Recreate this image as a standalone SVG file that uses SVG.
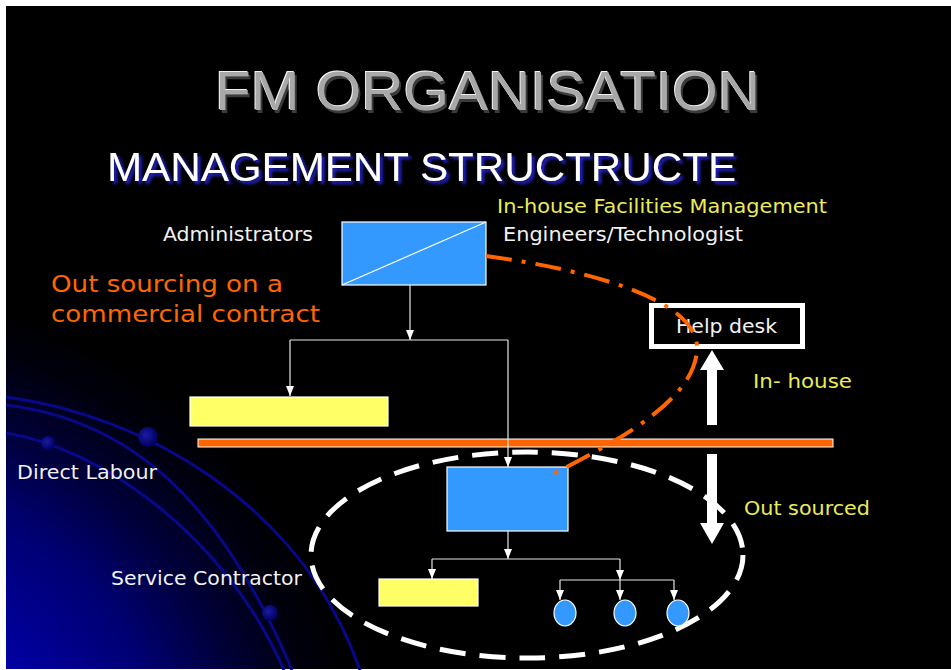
<svg xmlns="http://www.w3.org/2000/svg" width="951" height="670" viewBox="0 0 951 670">
<defs>
<radialGradient id="planet" gradientUnits="userSpaceOnUse" cx="-150" cy="800" r="520">
<stop offset="0" stop-color="#0000c8"/>
<stop offset="0.42" stop-color="#00009e"/>
<stop offset="0.62" stop-color="#000072"/>
<stop offset="0.78" stop-color="#000036"/>
<stop offset="0.9" stop-color="#00000e"/>
<stop offset="1" stop-color="#000000"/>
</radialGradient>
<radialGradient id="dot" cx="0.4" cy="0.4" r="0.6">
<stop offset="0" stop-color="#1a1aa0"/>
<stop offset="1" stop-color="#000060"/>
</radialGradient>
<filter id="bevel" x="-5%" y="-20%" width="110%" height="150%">
<feFlood flood-color="#3a3a3a" result="dk"/>
<feComposite in="dk" in2="SourceAlpha" operator="in" result="dk2"/>
<feOffset in="dk2" dx="2" dy="3" result="shadow"/>
<feFlood flood-color="#f2f2f2" result="lt"/>
<feComposite in="lt" in2="SourceAlpha" operator="in" result="lt2"/>
<feOffset in="lt2" dx="-1" dy="-1" result="hi"/>
<feMerge>
<feMergeNode in="shadow"/>
<feMergeNode in="hi"/>
<feMergeNode in="SourceGraphic"/>
</feMerge>
</filter>
<filter id="glow" x="-5%" y="-30%" width="110%" height="170%">
<feFlood flood-color="#2222cc" result="bl"/>
<feComposite in="bl" in2="SourceAlpha" operator="in" result="bl2"/>
<feOffset in="bl2" dx="3" dy="3" result="off"/>
<feGaussianBlur in="off" stdDeviation="1.5" result="sh"/>
<feMerge>
<feMergeNode in="sh"/>
<feMergeNode in="SourceGraphic"/>
</feMerge>
</filter>
<marker id="arr" markerUnits="userSpaceOnUse" markerWidth="10" markerHeight="10" viewBox="0 0 10 10" refX="10" refY="5" orient="auto">
<path d="M0,1 L10,5 L0,9 Z" fill="#ffffff"/>
</marker>
</defs>
<style>
.lbl{font-family:"DejaVu Sans","Liberation Sans",sans-serif;font-size:20px;fill:#f2f2f2}
.yel{fill:#ebeb5c}
.org{fill:#ff6600;font-size:23px}
.conn{stroke:#e6e6e6;stroke-width:1.2;fill:none}
.box{fill:#3399ff;stroke:#ffffff;stroke-width:1.2}
.ybox{fill:#ffff66;stroke:#ffffff;stroke-width:1.2}
.orbit{fill:none;stroke:#08088a;stroke-width:3}
</style>
<rect x="0" y="0" width="951" height="670" fill="#ffffff"/>
<rect x="6" y="6" width="945" height="663" fill="#000000"/>
<rect x="6" y="6" width="945" height="663" fill="url(#planet)"/>
<g id="orbits">
<path class="orbit" d="M6,397 C140,415 300,500 360,670"/>
<path class="orbit" d="M6,405 C130,420 220,500 292,670"/>
<path class="orbit" d="M6,433 C100,448 225,535 284,670"/>
<circle cx="148" cy="437" r="10" fill="url(#dot)"/>
<circle cx="48" cy="443" r="7" fill="url(#dot)"/>
<circle cx="270" cy="613" r="8" fill="url(#dot)"/>
</g>
<g id="title">
<text x="215" y="110" font-family="Liberation Sans, Arial, sans-serif" font-size="56" textLength="545" lengthAdjust="spacingAndGlyphs" fill="#a8a8a8" filter="url(#bevel)">FM ORGANISATION</text>
</g>
<g id="subtitle">
<text x="107" y="181" font-family="Liberation Sans, Arial, sans-serif" font-size="40" textLength="629" lengthAdjust="spacingAndGlyphs" fill="#ffffff" filter="url(#glow)">MANAGEMENT STRUCTRUCTE</text>
</g>
<g id="separator">
<rect x="198" y="439" width="635" height="8" fill="#ff6600" stroke="#ffffff" stroke-width="1"/>
</g>
<g id="outsourced-boundary">
<ellipse cx="527" cy="555" rx="216" ry="103" fill="none" stroke="#ffffff" stroke-width="5" stroke-dasharray="26 14"/>
</g>
<g id="connectors">
<path class="conn" d="M410,285 V340" marker-end="url(#arr)"/>
<path class="conn" d="M290,340 H508"/>
<path class="conn" d="M290,340 V396" marker-end="url(#arr)"/>
<path class="conn" d="M508,340 V467" marker-end="url(#arr)"/>
<path class="conn" d="M508,531 V559" marker-end="url(#arr)"/>
<path class="conn" d="M432,559 H620"/>
<path class="conn" d="M432,559 V579" marker-end="url(#arr)"/>
<path class="conn" d="M620,559 V580" marker-end="url(#arr)"/>
<path class="conn" d="M560,580 H674"/>
<path class="conn" d="M560,580 V600" marker-end="url(#arr)"/>
<path class="conn" d="M620,580 V600" marker-end="url(#arr)"/>
<path class="conn" d="M674,580 V600" marker-end="url(#arr)"/>
<polygon points="707,425 717,425 717,370 724,370 712,350 700,370 707,370" fill="#ffffff"/>
<polygon points="707,454 717,454 717,523 724,523 712,544 700,523 707,523" fill="#ffffff"/>
</g>
<g id="administrators">
<rect class="box" x="342" y="222" width="144" height="63"/>
<line x1="342" y1="285" x2="486" y2="222" stroke="#ffffff" stroke-width="1.2"/>
<text class="lbl" x="163" y="241" textLength="150" lengthAdjust="spacingAndGlyphs">Administrators</text>
<text class="lbl" x="503" y="241" textLength="240" lengthAdjust="spacingAndGlyphs">Engineers/Technologist</text>
<text class="lbl yel" x="497" y="213" textLength="330" lengthAdjust="spacingAndGlyphs">In-house Facilities Management</text>
</g>
<g id="outsourcing-label">
<text class="lbl org" x="51" y="292" textLength="232" lengthAdjust="spacingAndGlyphs">Out sourcing on a</text>
<text class="lbl org" x="51" y="322" textLength="269" lengthAdjust="spacingAndGlyphs">commercial contract</text>
</g>
<g id="help-desk">
<rect x="651.5" y="305.5" width="151" height="41" fill="#000000" stroke="#ffffff" stroke-width="5"/>
<text class="lbl" x="676" y="333" textLength="101" lengthAdjust="spacingAndGlyphs">Help desk</text>
</g>
<g id="direct-labour">
<rect class="ybox" x="190" y="397" width="198" height="29"/>
<text class="lbl" x="17" y="479" textLength="140" lengthAdjust="spacingAndGlyphs">Direct Labour</text>
</g>
<g id="service-contractor">
<rect class="box" x="447" y="467" width="121" height="64"/>
<text class="lbl" x="111" y="585" textLength="191" lengthAdjust="spacingAndGlyphs">Service Contractor</text>
</g>
<g id="sub-unit">
<rect class="ybox" x="379" y="579" width="99" height="27"/>
</g>
<g id="staff">
<ellipse class="box" cx="565" cy="613" rx="11" ry="13"/>
<ellipse class="box" cx="625" cy="613" rx="11" ry="13"/>
<ellipse class="box" cx="678" cy="613" rx="11" ry="13"/>
</g>
<g id="flow-labels">
<text class="lbl yel" x="753" y="388" textLength="99" lengthAdjust="spacingAndGlyphs">In- house</text>
<text class="lbl yel" x="744" y="515" textLength="126" lengthAdjust="spacingAndGlyphs">Out sourced</text>
</g>
<g id="outsourcing-link">
<path d="M486,256 C590,270 700,300 697,350 C694,400 620,440 553,474" fill="none" stroke="#ff6600" stroke-width="4" stroke-dasharray="26 10 4 10"/>
</g>
</svg>
